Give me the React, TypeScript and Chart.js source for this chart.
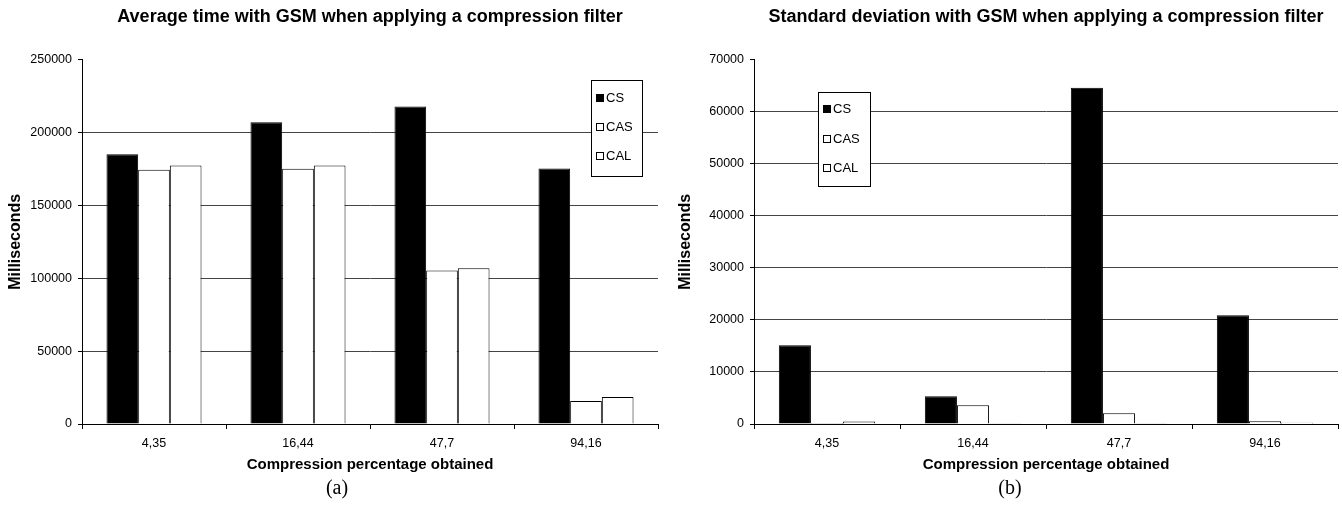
import React, { useEffect, useRef } from "react";
import { Chart, registerables } from "chart.js";

Chart.register(...registerables);

const FONT = "'Liberation Sans', Arial, sans-serif";

const categories = ["4,35", "16,44", "47,7", "94,16"];
const seriesNames = ["CS", "CAS", "CAL"];

// (a) Average time
const avgCS = [185000, 207000, 217800, 175300];
const avgCAS = [174500, 175200, 105300, 15800];
const avgCAL = [177400, 177400, 106900, 18500];
const avgMax = 250000;
const avgStep = 50000;

// (b) Standard deviation
const sdCS = [15150, 5330, 64600, 20870];
const sdCAS = [200, 3600, 2050, 510];
const sdCAL = [500, 130, 130, 250];
const sdMax = 70000;
const sdStep = 10000;

const titleA = "Average time with GSM when applying a compression filter";
const titleB = "Standard deviation with GSM when applying a compression filter";
const xTitle = "Compression percentage obtained";
const yTitle = "Milliseconds";

const boxLegend = {
  id: "boxLegend",
  afterDraw(chart: any, _args: any, opts: any) {
    const { ctx } = chart;
    const { x, y, w, h, rows } = opts;
    ctx.save();
    ctx.fillStyle = "#fff";
    ctx.fillRect(x, y, w, h);
    ctx.strokeStyle = "#000";
    ctx.lineWidth = 1;
    ctx.strokeRect(x + 0.5, y + 0.5, w, h);
    chart.data.datasets.forEach((ds: any, i: number) => {
      const cy = y + rows[i];
      ctx.fillStyle = ds.backgroundColor;
      ctx.fillRect(x + 5.5, cy - 3.5, 7, 7);
      ctx.strokeStyle = "#000";
      ctx.strokeRect(x + 5.5, cy - 3.5, 7, 7);
      ctx.fillStyle = "#000";
      ctx.font = "13px " + FONT;
      ctx.textBaseline = "middle";
      ctx.textAlign = "left";
      ctx.fillText(ds.label, x + 15, cy + 0.5);
    });
    ctx.restore();
  },
};

function makeConfig(
  title: string,
  cs: number[],
  cas: number[],
  cal: number[],
  max: number,
  step: number,
  yWidth: number,
  rightPad: number,
  legend: any
): any {
  const values = [cs, cas, cal];
  const fills = ["#000000", "#ffffff", "#ffffff"];
  return {
    type: "bar",
    data: {
      labels: categories,
      datasets: seriesNames.map((name, i) => ({
        label: name,
        data: values[i],
        backgroundColor: fills[i],
        borderColor: "#000000",
        borderWidth: 1,
        categoryPercentage: 0.66,
        barPercentage: 1.0,
      })),
    },
    plugins: [boxLegend],
    options: {
      responsive: false,
      animation: false,
      devicePixelRatio: 1,
      layout: { padding: { left: 0, right: rightPad, top: 0, bottom: 0 } },
      plugins: {
        legend: { display: false },
        tooltip: { enabled: false },
        title: {
          display: true,
          text: title,
          fullSize: false,
          color: "#000",
          font: { family: FONT, size: 18, weight: "bold" },
          padding: { top: 6, bottom: 32 },
        },
        boxLegend: legend,
      },
      scales: {
        x: {
          type: "category",
          offset: true,
          grid: {
            display: true,
            offset: true,
            drawOnChartArea: false,
            color: "#000",
            tickLength: 5,
          },
          border: { color: "#000", width: 1 },
          ticks: {
            color: "#000",
            font: { family: FONT, size: 12.5 },
            padding: 7,
            maxRotation: 0,
          },
          title: {
            display: true,
            text: xTitle,
            color: "#000",
            font: { family: FONT, size: 15, weight: "bold" },
            padding: { top: 4, bottom: 34 },
          },
          afterFit: (s: any) => {
            s.height = 84;
          },
        },
        y: {
          min: 0,
          max: max,
          ticks: {
            stepSize: step,
            color: "#000",
            font: { family: FONT, size: 12.5 },
            padding: 6,
            callback: (v: any) => String(v),
          },
          grid: {
            color: (c: any) =>
              c.tick && c.tick.value === max ? "rgba(0,0,0,0)" : "#444",
            tickColor: "#000",
            tickLength: 4,
          },
          border: { color: "#000", width: 1 },
          title: {
            display: true,
            text: yTitle,
            color: "#000",
            font: { family: FONT, size: 16, weight: "bold" },
            padding: { top: 6, bottom: 0 },
          },
          afterFit: (s: any) => {
            s.width = yWidth;
          },
        },
      },
    },
  };
}

function ChartCanvas(props: { config: any; width: number; height: number; left: number }) {
  const ref = useRef<HTMLCanvasElement | null>(null);
  useEffect(() => {
    if (!ref.current) return;
    const chart = new Chart(ref.current, props.config);
    return () => chart.destroy();
  }, []);
  return (
    <canvas
      ref={ref}
      width={props.width}
      height={props.height}
      style={{
        position: "absolute",
        left: props.left,
        top: 0,
        width: props.width,
        height: props.height,
        display: "block",
      }}
    />
  );
}

export default function App() {
  const cfgA = makeConfig(titleA, avgCS, avgCAS, avgCAL, avgMax, avgStep, 82, 12, {
    x: 591,
    y: 80,
    w: 51,
    h: 96,
    rows: [18, 47, 76],
  });
  const cfgB = makeConfig(titleB, sdCS, sdCAS, sdCAL, sdMax, sdStep, 84, 4, {
    x: 148,
    y: 92,
    w: 52,
    h: 94,
    rows: [17, 47, 76],
  });
  const capStyle: React.CSSProperties = {
    position: "absolute",
    top: 474,
    width: 60,
    textAlign: "center",
    fontFamily: "'Liberation Serif', 'Times New Roman', serif",
    fontSize: 20,
    lineHeight: "26px",
    color: "#000",
  };
  return (
    <div
      style={{
        position: "absolute",
        left: 0,
        top: 0,
        width: 1342,
        height: 508,
        background: "#fff",
        overflow: "hidden",
      }}
    >
      <ChartCanvas config={cfgA} width={670} height={508} left={0} />
      <ChartCanvas config={cfgB} width={672} height={508} left={670} />
      <div style={{ ...capStyle, left: 337 - 30 }}>(a)</div>
      <div style={{ ...capStyle, left: 1010 - 30 }}>(b)</div>
    </div>
  );
}
